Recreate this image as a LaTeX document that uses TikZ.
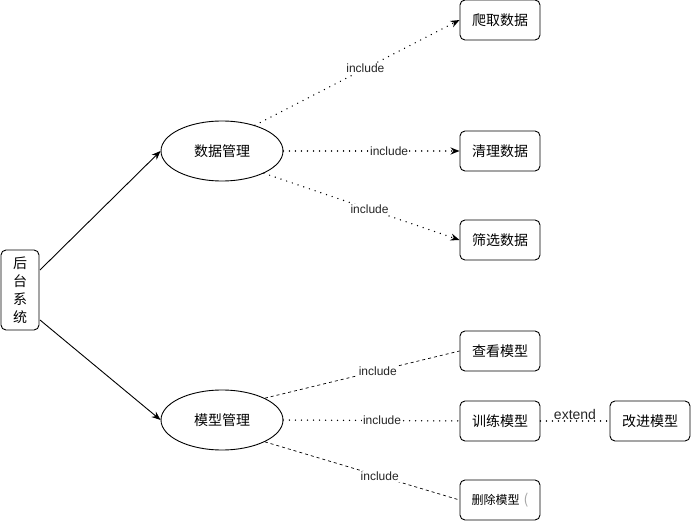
\documentclass[tikz,border=0pt]{standalone}
\usepackage{fontspec}
\setmainfont{Liberation Sans}
\newfontfamily\cjk{Noto Sans CJK SC}
\usetikzlibrary{arrows.meta,shapes.geometric}
\begin{document}
\begin{tikzpicture}[x=1pt,y=-1pt,line width=0.9pt,
  box/.style={draw,rounded corners=5pt,minimum width=80pt,minimum height=40pt,inner sep=0pt,font=\cjk\fontsize{14}{16}\selectfont},
  uc/.style={draw,ellipse,minimum width=122pt,minimum height=60pt,inner sep=0pt,font=\cjk\fontsize{14}{16}\selectfont},
  lbl/.style={fill=white,inner sep=1pt,font=\fontsize{12}{14}\selectfont,text=black!85},
  dotl/.style={line width=1.5pt,dash pattern=on 0.01pt off 6pt,line cap=round},
  dashl/.style={dash pattern=on 3pt off 3pt},
  arr/.style={-{Stealth[length=9pt,width=7pt]}}]
\useasboundingbox (0,0) rectangle (691,521);
\node[draw,rounded corners=5pt,minimum width=38pt,minimum height=80pt,inner sep=0pt,align=center,font=\cjk\fontsize{14}{18}\selectfont] (sys) at (20,290) {后\\台\\系\\统};
\node[uc] (dm) at (222,151) {数据管理};
\node[uc] (mm) at (222,420) {模型管理};
\node[box] (a) at (500,20) {爬取数据};
\node[box] (b) at (500,151) {清理数据};
\node[box] (c) at (500,240) {筛选数据};
\node[box] (d) at (500,351) {查看模型};
\node[box] (e) at (500,421) {训练模型};
\node[box,font=\cjk\fontsize{12}{14}\selectfont] (f) at (500,500) {删除模型\hspace{4pt}\textcolor{black!35}{\fontsize{14}{16}\selectfont(}};
\node[box] (g) at (650,421) {改进模型};
\coordinate (s1) at (40,270);
\coordinate (s2) at (40,320);
\draw[arr] (s1) -- (dm.west);
\draw[arr] (s2) -- (mm.west);
\draw[dotl,arr] (dm.38) -- node[lbl,pos=0.54]{include} (a.west);
\draw[dotl,arr] (dm.east) -- node[lbl,pos=0.6]{include} (b.west);
\draw[dotl,arr] (dm.-28) -- node[lbl,pos=0.54]{include} (c.west);
\draw[dashl,line width=0.7pt] (mm.27) -- node[lbl,pos=0.58]{include} (d.west);
\draw[dotl] (mm.east) -- node[lbl,pos=0.56]{include} (e.west);
\draw[dashl,line width=0.7pt] (mm.-27) -- node[lbl,pos=0.59]{include} (f.west);
\draw[dotl] (e.east) -- node[font=\fontsize{14}{16}\selectfont,above=-3pt,text=black!85]{extend} (g.west);
\end{tikzpicture}
\end{document}
